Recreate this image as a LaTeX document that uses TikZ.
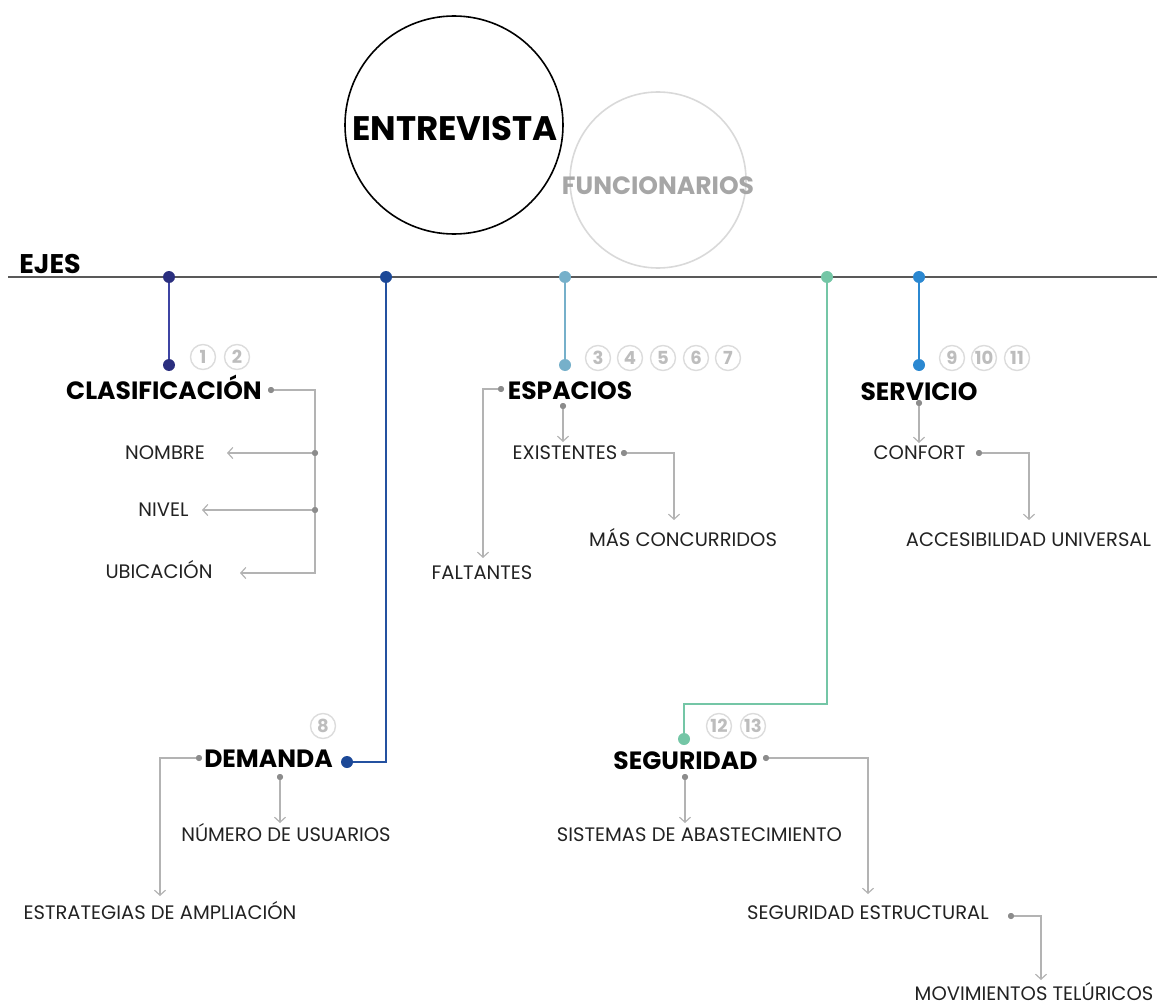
\documentclass[tikz,border=0pt]{standalone}
\usepackage{fontspec}
\setmainfont{Poppins}
\usetikzlibrary{arrows.meta}
\definecolor{axisc}{HTML}{595959}
\definecolor{lgray}{HTML}{B3B3B3}
\definecolor{dgray}{HTML}{8C8C8C}
\definecolor{numc}{HTML}{DCDCDC}
\definecolor{numt}{HTML}{BDBDBD}
\definecolor{funct}{HTML}{A6A6A6}
\definecolor{funcc}{HTML}{D9D9D9}
\definecolor{clasl}{HTML}{3D44A3}
\definecolor{clasd}{HTML}{2B2F7F}
\definecolor{deml}{HTML}{2451A0}
\definecolor{demd}{HTML}{1C4897}
\definecolor{espc}{HTML}{76B0CA}
\definecolor{segc}{HTML}{74C6A6}
\definecolor{serc}{HTML}{2B88D1}
\definecolor{bodyc}{HTML}{222222}
\begin{document}
\begin{tikzpicture}[x=1pt,y=-1pt,
  body/.style={font=\fontsize{19.5}{22}\selectfont, text=bodyc, anchor=base, inner sep=0pt},
  head/.style={font=\fontsize{25}{28}\selectfont\bfseries, text=black, anchor=base, inner sep=0pt},
  gline/.style={draw=lgray, line width=1.2pt},
  garrow/.style={gline, -{Straight Barb[length=5pt,width=11pt]}},
  gdot/.style={circle, fill=dgray, inner sep=0pt, minimum size=6pt},
  bdot/.style={circle, inner sep=0pt, minimum size=12pt},
  cline/.style={line width=1.5pt},
  num/.style={circle, draw=numc, line width=1.4pt, minimum size=25pt, inner sep=0pt, text=numt, font=\fontsize{18}{18}\selectfont\bfseries}
]
\useasboundingbox (0,0) rectangle (1157,1006);

% title circles
\node[circle, draw=black, line width=1.6pt, minimum size=218pt, inner sep=0pt] (cE) at (454,125) {};
\node[circle, draw=funcc, line width=1.6pt, minimum size=176pt, inner sep=0pt] (cF) at (658,180) {};
\node[font=\fontsize{34}{38}\selectfont\bfseries, anchor=base, inner sep=0pt] (tE) at (455,141) {ENTREVISTA};
\node[font=\fontsize{25}{27}\selectfont\bfseries, text=funct, anchor=base, inner sep=0pt] (tF) at (658,194) {FUNCIONARIOS};

% axis
\node[font=\fontsize{27}{29}\selectfont\bfseries, anchor=base, inner sep=0pt] (ejes) at (50,273) {EJES};
\coordinate (axL) at (8,277);
\coordinate (axR) at (1157,277);
\draw[draw=axisc, line width=1.2pt] (axL) -- (axR);

% axis dots
\node[bdot, fill=clasd] (a1) at (169,277) {};
\node[bdot, fill=demd] (a2) at (386,277) {};
\node[bdot, fill=espc] (a3) at (565,277) {};
\node[bdot, fill=segc] (a4) at (827,277) {};
\node[bdot, fill=serc] (a5) at (919,277) {};

% end dots
\node[bdot, fill=clasd] (b1) at (169,365) {};
\node[bdot, fill=demd] (b2) at (347,762) {};
\node[bdot, fill=espc] (b3) at (565,365) {};
\node[bdot, fill=segc] (b4) at (684,739) {};
\node[bdot, fill=serc] (b5) at (919,365) {};

% coloured connectors
\draw[cline, draw=clasl] (a1) -- (b1);
\draw[cline, draw=deml] (a2) |- (b2);
\draw[cline, draw=espc] (a3) -- (b3);
\coordinate (s1) at (827,704);
\coordinate (s2) at (684,704);
\draw[cline, draw=segc] (a4) -- (s1) -- (s2) -- (b4);
\draw[cline, draw=serc] (a5) -- (b5);

% circled numbers
\node[num] (n1) at (203,357) {1};
\node[num] (n2) at (237,357) {2};
\node[num] (n3) at (598,358) {3};
\node[num] (n4) at (630,358) {4};
\node[num] (n5) at (663,358) {5};
\node[num] (n6) at (696,358) {6};
\node[num] (n7) at (728,358) {7};
\node[num] (n8) at (323,726) {8};
\node[num] (n9) at (952,358) {9};
\node[num] (n10) at (984,358) {10};
\node[num] (n11) at (1017,358) {11};
\node[num] (n12) at (719,726) {12};
\node[num] (n13) at (753,726) {13};

% headings
\node[head] (hClas) at (164,399) {CLASIFICACIÓN};
\node[head] (hEsp) at (570,399) {ESPACIOS};
\node[head] (hSer) at (919,400) {SERVICIO};
\node[head] (hDem) at (268.5,767) {DEMANDA};
\node[head] (hSeg) at (685.5,769) {SEGURIDAD};

% body texts
\node[body] (tNom) at (165,459.5) {NOMBRE};
\node[body] (tNiv) at (163.5,516.5) {NIVEL};
\node[body] (tUbi) at (159,578.5) {UBICACIÓN};
\node[body] (tFal) at (482,579.5) {FALTANTES};
\node[body] (tExi) at (565,459.5) {EXISTENTES};
\node[body] (tMas) at (683,546.5) {MÁS CONCURRIDOS};
\node[body] (tCon) at (919.5,459.5) {CONFORT};
\node[body] (tAcc) at (1028.5,546.5) {ACCESIBILIDAD UNIVERSAL};
\node[body] (tNum) at (286,841.5) {NÚMERO DE USUARIOS};
\node[body] (tEst) at (160,919.5) {ESTRATEGIAS DE AMPLIACIÓN};
\node[body] (tSis) at (699.5,841.5) {SISTEMAS DE ABASTECIMIENTO};
\node[body] (tSeE) at (868,919.5) {SEGURIDAD ESTRUCTURAL};
\node[body] (tMov) at (1034,1000) {MOVIMIENTOS TELÚRICOS};

% grey dots
\node[gdot] (gC0) at (271,390) {};
\node[gdot] (gC1) at (315,453) {};
\node[gdot] (gC2) at (315,510) {};
\node[gdot] (gE0) at (501,389) {};
\node[gdot] (gE1) at (563,406) {};
\node[gdot] (gE2) at (624,453) {};
\node[gdot] (gS1) at (919,403) {};
\node[gdot] (gS2) at (979,453) {};
\node[gdot] (gD0) at (199,758) {};
\node[gdot] (gD1) at (280,777) {};
\node[gdot] (gG0) at (766,758) {};
\node[gdot] (gG1) at (685,777) {};
\node[gdot] (gG2) at (1011,916) {};

% arrow tips
\coordinate (pNom) at (227,453);
\coordinate (pNiv) at (202,510);
\coordinate (pUbi) at (240,573);
\coordinate (pFal) at (483,558);
\coordinate (pExi) at (563,442);
\coordinate (pMas) at (674,520);
\coordinate (pCon) at (919,443);
\coordinate (pAcc) at (1029,520);
\coordinate (pEst) at (160,896);
\coordinate (pNum) at (280,823);
\coordinate (pSeE) at (868,894);
\coordinate (pSis) at (685,823);
\coordinate (pMov) at (1041,980);

% grey connectors
\draw[garrow] (gC0.center) -| (315,573) -- (pUbi);
\draw[garrow] (gC1.center) -- (pNom);
\draw[garrow] (gC2.center) -- (pNiv);
\draw[garrow] (gE0.center) -| (pFal);
\draw[garrow] (gE1.center) -- (pExi);
\draw[garrow] (gE2.center) -| (pMas);
\draw[garrow] (gS1.center) -- (pCon);
\draw[garrow] (gS2.center) -| (pAcc);
\draw[garrow] (gD0.center) -| (pEst);
\draw[garrow] (gD1.center) -- (pNum);
\draw[garrow] (gG0.center) -| (pSeE);
\draw[garrow] (gG1.center) -- (pSis);
\draw[garrow] (gG2.center) -| (pMov);
% redraw grey dots on top
\foreach \d in {gC0,gC1,gC2,gE0,gE1,gE2,gS1,gS2,gD0,gD1,gG0,gG1,gG2}
  \fill[dgray] (\d.center) circle (3pt);
\end{tikzpicture}
\end{document}
